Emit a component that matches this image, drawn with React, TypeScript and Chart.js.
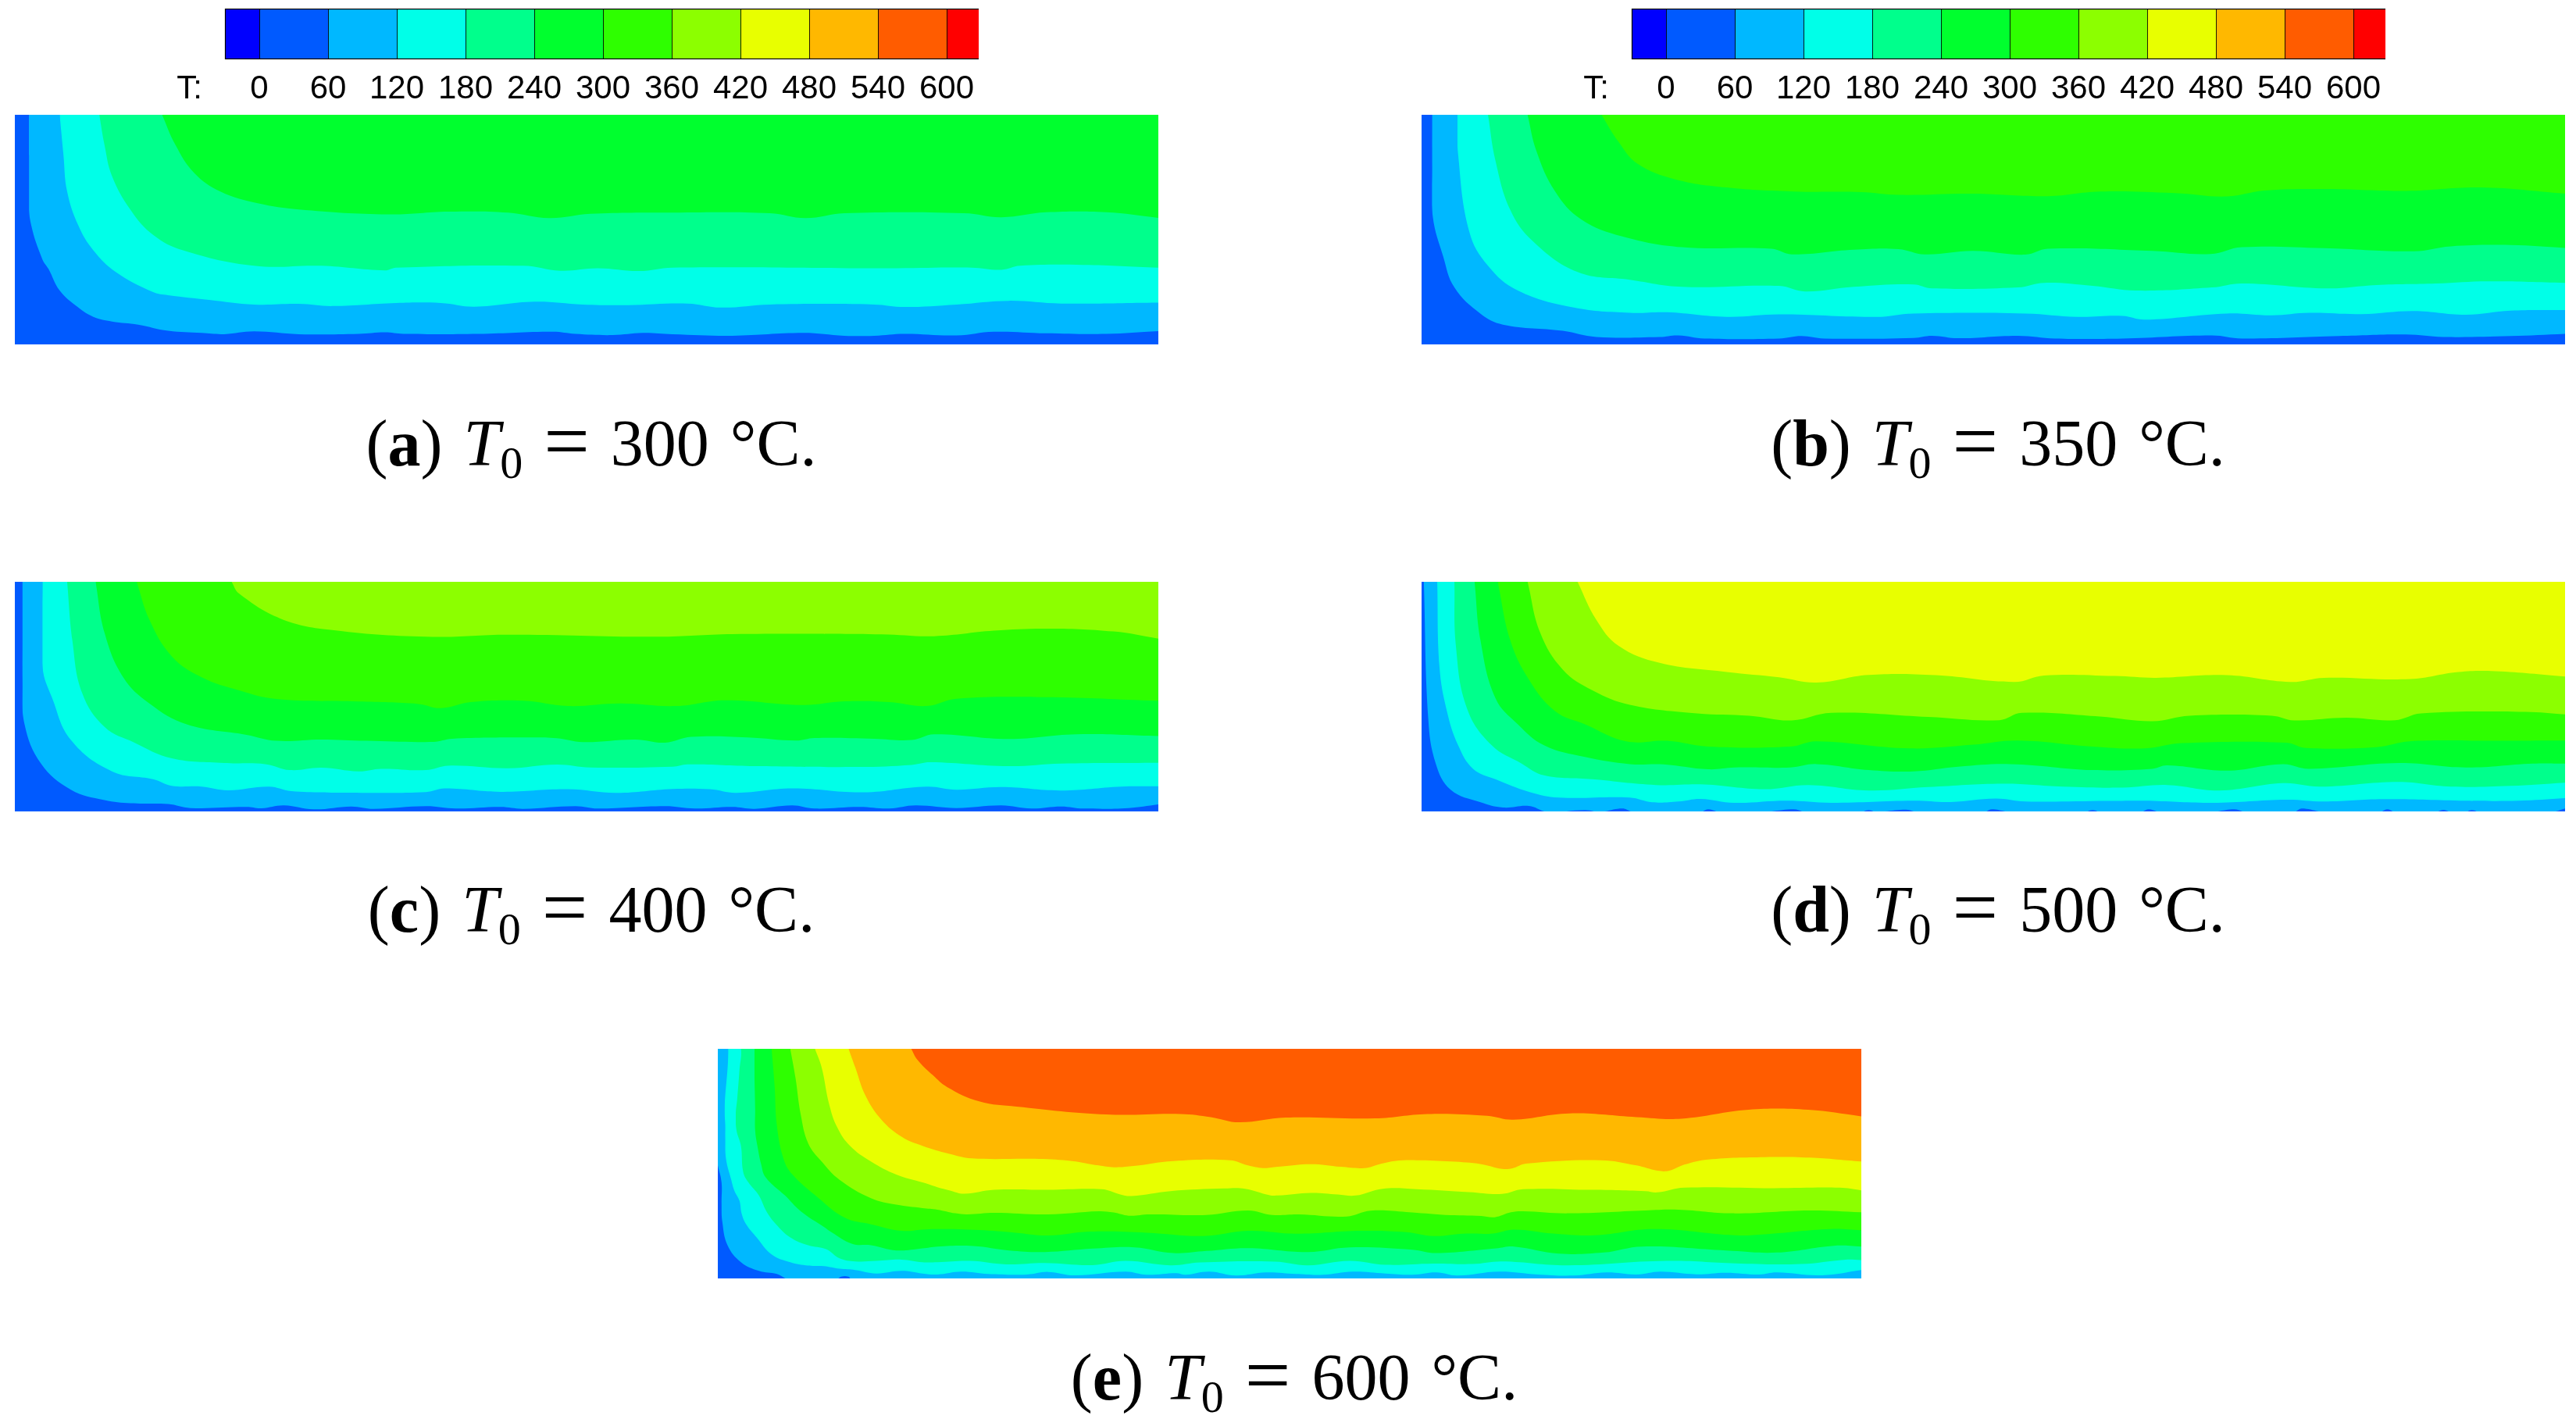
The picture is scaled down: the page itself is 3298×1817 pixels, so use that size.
import React, { useEffect, useRef } from "react";
import { Chart, registerables } from "chart.js";

Chart.register(...registerables);

type Pt = number[];

// Colour bar
const barEdges = [-30, 0, 60, 120, 180, 240, 300, 360, 420, 480, 540, 600, 628];
const barColors = ["#0000ff", "#005aff", "#00b8ff", "#00ffe8", "#00ff8c", "#00ff2e", "#2eff00", "#8cff00", "#e8ff00", "#ffb800", "#ff5c00", "#ff0000"];
const tickValues = [0, 60, 120, 180, 240, 300, 360, 420, 480, 540, 600];
const barTitle = "T:";
const barTitleAt = -61;

const a60: Pt[] = [[19,0],[18,130],[18,268],[22,358],[37,468],[45,498],[60,568],[85,623],[105,653],[130,668],[165,678],[205,698],[250,705],[280,709],[320,700],[380,709],[460,708],[495,703],[520,708],[620,708],[720,701],[750,708],[800,712],[840,705],[880,709],[960,714],[1055,705],[1110,714],[1150,714],[1190,708],[1260,713],[1310,701],[1380,706],[1460,708],[1530,699]];
const a120: Pt[] = [[60,0],[65,128],[70,248],[85,358],[105,438],[135,508],[185,573],[205,583],[260,598],[320,613],[380,611],[425,618],[510,608],[570,608],[615,620],[695,604],[760,613],[820,615],[900,610],[945,623],[1010,613],[1150,613],[1190,621],[1260,613],[1330,601],[1400,610],[1530,607]];
const a180: Pt[] = [[113,0],[120,98],[130,198],[155,308],[185,388],[225,438],[320,488],[410,488],[495,503],[510,494],[680,488],[730,504],[780,496],[835,505],[880,494],[1130,496],[1180,496],[1280,494],[1320,501],[1345,488],[1430,485],[1530,494]];
const a240: Pt[] = [[197,0],[215,98],[240,188],[275,248],[325,286],[380,306],[500,322],[580,313],[660,316],[715,334],[770,320],[880,316],[1010,318],[1058,334],[1110,318],[1270,318],[1320,331],[1380,315],[1460,315],[1530,333]];

const b60: Pt[] = [[14,0],[14,168],[15,328],[29,458],[44,558],[79,643],[109,678],[189,698],[234,718],[319,718],[344,713],[379,723],[479,723],[509,715],[539,723],[659,721],[684,714],[719,722],[799,714],[849,723],[939,723],[1059,713],[1099,723],[1229,715],[1319,710],[1369,718],[1459,715],[1532,708]];
const b120: Pt[] = [[48,0],[49,128],[64,378],[89,488],[129,568],[204,623],[279,640],[329,638],[409,653],[479,645],[609,653],[659,642],[809,642],[879,653],[939,650],[969,662],[1079,642],[1139,648],[1189,640],[1259,644],[1329,634],[1399,646],[1459,633],[1532,631]];
const b180: Pt[] = [[89,0],[99,148],[119,308],[149,408],[209,508],[279,533],[349,556],[479,553],[514,571],[579,556],[659,548],[684,561],[799,558],[834,543],[899,553],[957,568],[1059,558],[1099,545],[1214,561],[1279,550],[1359,545],[1429,538],[1532,543]];
const b240: Pt[] = [[142,0],[154,118],[179,248],[214,338],[269,393],[349,428],[469,433],[496,451],[579,436],[639,434],[674,451],[739,440],[809,452],[839,433],[979,440],[1057,450],[1099,428],[1209,431],[1329,441],[1379,425],[1459,421],[1532,430]];
const b300: Pt[] = [[241,0],[264,88],[289,158],[339,208],[409,235],[499,248],[589,250],[639,259],[739,255],[839,263],[909,248],[1009,253],[1079,264],[1129,245],[1209,240],[1319,246],[1419,235],[1532,255]];

const c60: Pt[] = [[10,0],[10,225],[10,375],[13,545],[35,695],[75,795],[120,835],[155,847],[205,850],[235,865],[310,861],[330,866],[360,855],[400,870],[450,859],[480,868],[550,858],[590,867],[650,861],[680,868],[750,858],[780,867],[870,858],[910,867],[960,861],[990,868],[1040,855],[1070,867],[1130,861],[1170,867],[1205,855],[1260,865],[1320,855],[1360,867],[1400,859],[1430,867],[1490,865],[1530,851]];
const c120: Pt[] = [[37,0],[37,325],[50,445],[75,605],[130,725],[185,755],[210,780],[250,783],[285,797],[340,783],[370,800],[450,806],[550,804],[575,790],[650,803],[740,793],[805,807],[880,792],[930,793],[965,807],[1040,790],[1135,805],[1220,783],[1260,795],[1320,785],[1400,798],[1480,783],[1530,782]];
const c180: Pt[] = [[70,0],[77,225],[90,425],[120,555],[160,615],[210,675],[280,693],[335,697],[368,720],[410,711],[460,725],[490,715],[550,720],[580,703],[660,713],[725,699],[770,710],[880,707],[900,698],[990,705],[1130,708],[1200,700],[1225,690],[1330,705],[1400,695],[1530,692]];
const c240: Pt[] = [[108,0],[120,195],[145,365],[180,465],[230,545],[310,585],[350,608],[410,603],[470,608],[560,612],[585,600],[680,595],[725,598],[760,613],[830,603],[870,615],[905,593],[980,595],[1045,607],[1070,597],[1150,600],[1200,605],[1230,583],[1330,601],[1420,583],[1530,590]];
const c300: Pt[] = [[163,0],[180,145],[210,285],[250,365],[300,415],[350,448],[460,458],[540,467],[570,483],[610,460],[680,455],[740,475],[810,465],[885,475],[950,453],[1055,471],[1110,457],[1170,460],[1220,475],[1260,447],[1380,441],[1530,455]];
const c360: Pt[] = [[290,0],[300,45],[355,140],[420,183],[550,210],[660,202],[860,210],[960,200],[1160,201],[1230,208],[1310,187],[1380,179],[1470,190],[1530,217]];

const d60: Pt[] = [[3,0],[9,525],[19,695],[39,795],[79,843],[109,863],[144,857],[169,880],[219,873],[239,880],[269,867],[284,880],[374,880],[384,870],[399,880],[459,880],[499,870],[514,880],[589,880],[599,873],[609,880],[649,871],[664,880],[754,880],[764,870],[789,880],[889,880],[899,873],[909,880],[964,880],[974,870],[989,880],[1059,880],[1089,870],[1104,880],[1169,880],[1179,867],[1209,880],[1284,880],[1294,870],[1304,880],[1359,880],[1369,872],[1379,880],[1399,880],[1407,873],[1417,880],[1514,880],[1532,867]];
const d120: Pt[] = [[21,0],[24,325],[34,495],[49,625],[69,715],[99,755],[144,803],[184,825],[279,825],[309,843],[344,840],[374,830],[419,845],[489,837],[549,845],[659,837],[709,842],[769,829],[809,840],[919,838],[969,837],[1059,845],[1159,833],[1209,840],[1289,831],[1399,837],[1469,837],[1532,827]];
const d180: Pt[] = [[44,0],[46,245],[61,485],[94,625],[134,695],[164,740],[229,755],[314,777],[379,775],[459,793],[519,777],[599,798],[679,785],[779,772],[859,783],[939,787],[999,777],[1069,798],[1154,770],[1204,783],[1309,765],[1379,783],[1459,780],[1532,768]];
const d240: Pt[] = [[71,0],[79,225],[99,445],[129,545],[164,625],[219,670],[279,697],[324,698],[384,717],[419,710],[494,710],[529,697],[599,720],[659,725],[719,707],[789,697],[899,720],[979,715],[999,702],[1079,722],[1154,697],[1189,715],[1309,693],[1399,710],[1489,695],[1532,695]];
const d300: Pt[] = [[102,0],[119,225],[144,375],[179,495],[219,545],[274,610],[329,608],[384,630],[494,630],[529,610],[654,637],[739,623],[799,607],[899,630],[969,637],[1019,617],[1159,615],[1184,635],[1279,632],[1324,610],[1429,608],[1532,607]];
const d360: Pt[] = [[142,0],[159,195],[189,335],[229,415],[279,470],[369,503],[439,512],[496,530],[549,501],[679,517],[774,529],[804,501],[909,515],[979,533],[1029,512],[1139,512],[1169,530],[1239,520],[1304,529],[1339,503],[1479,497],[1532,507]];
const d420: Pt[] = [[209,0],[234,145],[264,245],[319,310],[409,345],[479,365],[529,385],[599,356],[689,357],[794,383],[834,358],[929,360],[984,367],[1079,357],[1164,383],[1209,367],[1324,372],[1389,345],[1439,342],[1532,362]];

const e60: Pt[] = [[0,446],[5,511],[5,591],[6,661],[13,751],[31,816],[55,849],[79,861],[95,881],[159,881],[165,871],[175,871],[179,881],[1531,881]];
const e120: Pt[] = [[9,-50],[14,0],[9,231],[10,291],[10,341],[11,421],[18,501],[22,541],[29,581],[32,631],[38,671],[52,721],[72,786],[97,816],[121,829],[142,831],[163,841],[184,846],[212,859],[246,849],[274,859],[294,863],[326,852],[362,861],[414,863],[442,853],[478,866],[546,852],[574,864],[614,858],[626,864],[658,852],[694,867],[734,855],[774,861],[810,864],[850,852],[894,859],[930,864],[962,855],[990,867],[1046,852],[1098,863],[1146,867],[1190,855],[1230,863],[1262,852],[1310,862],[1350,856],[1394,863],[1418,855],[1478,866],[1531,846]];
const e180: Pt[] = [[24,-50],[31,0],[29,81],[26,191],[24,251],[25,311],[31,371],[34,471],[41,511],[55,561],[65,621],[78,671],[97,721],[121,751],[145,766],[163,801],[184,813],[212,811],[246,806],[274,816],[294,816],[338,811],[386,824],[438,819],[502,827],[546,811],[606,828],[646,817],[746,814],[790,828],[846,811],[894,826],[958,821],[1010,823],[1050,813],[1138,828],[1270,811],[1370,821],[1450,823],[1510,806],[1531,808]];
const e240: Pt[] = [[49,0],[49,91],[50,231],[50,311],[53,371],[58,441],[64,491],[90,561],[111,621],[142,681],[152,701],[180,746],[205,751],[239,771],[274,763],[294,756],[342,754],[390,771],[438,777],[502,764],[558,759],[610,781],[654,773],[710,762],[790,777],[846,759],[930,768],[962,781],[1042,763],[1066,756],[1126,783],[1186,779],[1238,756],[1350,771],[1418,779],[1494,753],[1531,756]];
const e300: Pt[] = [[72,0],[76,141],[79,291],[88,421],[100,481],[135,571],[170,646],[205,671],[246,696],[274,691],[294,689],[350,693],[398,703],[442,714],[498,699],[574,703],[650,716],[710,696],[774,707],[862,696],[922,701],[958,716],[998,707],[1038,706],[1066,691],[1118,706],[1174,713],[1254,689],[1362,713],[1402,709],[1490,689],[1531,694]];
const e360: Pt[] = [[97,0],[104,111],[111,251],[121,361],[139,431],[163,501],[205,571],[239,596],[274,609],[294,615],[318,629],[334,633],[370,627],[442,633],[510,621],[530,626],[550,638],[578,633],[654,635],[710,618],[742,635],[778,633],[842,641],[874,619],[922,624],[974,635],[1022,639],[1040,644],[1062,625],[1078,621],[1138,629],[1242,618],[1286,615],[1358,629],[1462,618],[1531,625]];
const e420: Pt[] = [[130,0],[139,71],[149,211],[160,301],[177,371],[205,431],[239,481],[274,511],[294,529],[310,541],[330,554],[370,539],[442,539],[514,537],[538,556],[554,563],[606,544],[678,534],[706,535],[738,559],[750,561],[794,551],[830,557],[854,561],[890,535],[936,537],[1006,548],[1050,555],[1078,537],[1162,539],[1242,544],[1258,549],[1294,531],[1414,533],[1502,531],[1531,541]];
const e480: Pt[] = [[175,0],[184,71],[198,181],[219,271],[246,336],[274,371],[309,401],[340,419],[430,421],[474,429],[510,446],[530,453],[554,449],[610,429],[686,426],[710,446],[730,456],[750,451],[794,441],[834,451],[866,456],[886,441],[906,429],[936,426],[982,431],[1022,441],[1050,459],[1064,457],[1082,439],[1182,426],[1230,446],[1258,466],[1274,466],[1294,443],[1326,423],[1402,414],[1462,416],[1498,423],[1531,431]];
const e540: Pt[] = [[259,0],[267,41],[288,101],[307,146],[350,201],[400,221],[520,251],[620,249],[660,261],[698,281],[760,263],[880,266],[950,249],[1030,256],[1065,271],[1140,247],[1230,261],[1290,267],[1380,233],[1460,233],[1531,258]];

const contourLevels = [60, 120, 180, 240, 300, 360, 420, 480, 540];
const baseColor = barColors[1];
const levelColors = barColors.slice(2);

const panelA = [a60, a120, a180, a240];
const panelB = [b60, b120, b180, b240, b300];
const panelC = [c60, c120, c180, c240, c300, c360];
const panelD = [d60, d120, d180, d240, d300, d360, d420];
const panelE = [e60, e120, e180, e240, e300, e360, e420, e480, e540];

function ContourPanel({ curves, left, top, domainX, domainY }: { curves: Pt[][]; left: number; top: number; domainX: number; domainY: number }) {
  const ref = useRef<HTMLCanvasElement>(null);
  useEffect(() => {
    const floor = { label: "T < 60", data: [{ x: 0, y: domainY + 10 }, { x: domainX, y: domainY + 10 }], backgroundColor: baseColor, fill: "end" };
    const layers = curves.map((pts, i) => ({
      label: `T = ${contourLevels[i]}`,
      data: pts.map(([x, y]) => ({ x, y })),
      backgroundColor: levelColors[i],
      fill: "end",
    }));
    // datasets are painted last-to-first, so the hottest region comes first
    const datasets = [...layers].reverse().concat([floor as any]).map((d) => ({ ...d, borderWidth: 0, pointRadius: 0, tension: 0.4 }));
    const chart = new Chart(ref.current!, {
      type: "line",
      data: { datasets: datasets as any },
      options: {
        animation: false,
        responsive: false,
        devicePixelRatio: 1,
        layout: { padding: 0 },
        events: [],
        plugins: { legend: { display: false }, tooltip: { enabled: false } },
        scales: {
          x: { type: "linear", min: 0, max: domainX, display: false },
          y: { type: "linear", min: 0, max: domainY, reverse: true, display: false },
        },
      },
    });
    return () => chart.destroy();
  }, [curves, domainX, domainY]);
  return <canvas ref={ref} width={1464} height={294} style={{ position: "absolute", left, top, width: 1464, height: 294 }} />;
}

function ColorBar({ left }: { left: number }) {
  const ref = useRef<HTMLCanvasElement>(null);
  useEffect(() => {
    const datasets = barColors.map((color, i) => ({
      label: `${barEdges[i]}–${barEdges[i + 1]}`,
      data: [[barEdges[i], barEdges[i + 1]]],
      backgroundColor: color,
      borderColor: "#000000",
      borderWidth: { top: 1.5, bottom: 1.5, left: i === 0 ? 1.5 : 1.2, right: 0 },
      borderSkipped: false,
      grouped: false,
      barPercentage: 1,
      categoryPercentage: 1,
    }));
    const chart = new Chart(ref.current!, {
      type: "bar",
      data: { labels: ["T"], datasets: datasets as any },
      options: {
        animation: false,
        responsive: false,
        devicePixelRatio: 1,
        indexAxis: "y",
        events: [],
        layout: { padding: { top: 11, left: 0, right: 0, bottom: 0 } },
        plugins: { legend: { display: false }, tooltip: { enabled: false } },
        scales: {
          y: { display: false },
          x: {
            type: "linear",
            min: -90,
            max: 660,
            border: { display: false },
            grid: { display: false, drawTicks: false },
            afterBuildTicks: (s: any) => {
              s.ticks = [barTitleAt, ...tickValues].map((value) => ({ value }));
            },
            afterFit: (s: any) => {
              s.height = 69;
            },
            ticks: {
              autoSkip: false,
              maxRotation: 0,
              minRotation: 0,
              padding: 13,
              color: "#000000",
              font: { family: "'Liberation Sans'", size: 42 },
              callback: (v: any) => (v === barTitleAt ? barTitle : String(v)),
            },
          },
        },
      },
    });
    return () => chart.destroy();
  }, []);
  return <canvas ref={ref} width={1100} height={145} style={{ position: "absolute", left, top: 0, width: 1100, height: 145 }} />;
}

function Caption({ tag, value, center, top }: { tag: string; value: string; center: number; top: number }) {
  return (
    <div
      style={{
        position: "absolute",
        left: center,
        top,
        transform: "translateX(-50%)",
        fontFamily: "'Liberation Serif', serif",
        fontSize: 84,
        lineHeight: 1,
        wordSpacing: 6,
        whiteSpace: "nowrap",
        color: "#000",
      }}
    >
      (<b>{tag}</b>) <i>T</i>
      <span style={{ fontSize: 58, position: "relative", top: 16 }}>0</span>{" "}
      <span style={{ fontSize: 104, lineHeight: 0, position: "relative", top: 4 }}>=</span> {value} °C.
    </div>
  );
}

export default function App() {
  return (
    <div style={{ position: "absolute", left: 0, top: 0, width: 3298, height: 1817, background: "#fff", overflow: "hidden" }}>
      <ColorBar left={200} />
      <ColorBar left={2001} />
      <ContourPanel curves={panelA} left={19} top={147} domainX={1530} domainY={742} />
      <ContourPanel curves={panelB} left={1820} top={147} domainX={1532} domainY={742} />
      <ContourPanel curves={panelC} left={19} top={745} domainX={1530} domainY={878} />
      <ContourPanel curves={panelD} left={1820} top={745} domainX={1532} domainY={878} />
      <ContourPanel curves={panelE} left={919} top={1343} domainX={1531} domainY={878} />
      <Caption tag="a" value="300" center={757} top={526} />
      <Caption tag="b" value="350" center={2558} top={526} />
      <Caption tag="c" value="400" center={757} top={1123} />
      <Caption tag="d" value="500" center={2558} top={1123} />
      <Caption tag="e" value="600" center={1657} top={1722} />
    </div>
  );
}
